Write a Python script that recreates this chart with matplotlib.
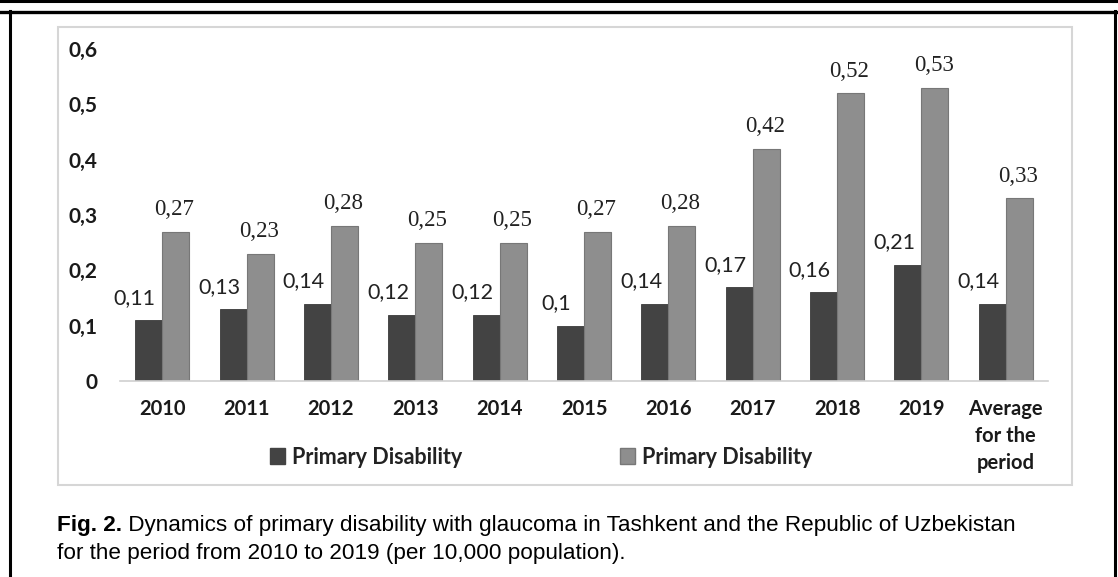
import numpy as np
import matplotlib.pyplot as plt
from matplotlib.patches import Rectangle, Patch
from matplotlib.lines import Line2D

W, H = 1118, 577
categories = ['2010', '2011', '2012', '2013', '2014', '2015', '2016', '2017',
              '2018', '2019', 'Average\nfor the\nperiod']
tashkent = [0.11, 0.13, 0.14, 0.12, 0.12, 0.1, 0.14, 0.17, 0.16, 0.21, 0.14]
republic = [0.27, 0.23, 0.28, 0.25, 0.25, 0.27, 0.28, 0.42, 0.52, 0.53, 0.33]
tashkent_txt = ['0,11', '0,13', '0,14', '0,12', '0,12', '0,1', '0,14', '0,17',
                '0,16', '0,21', '0,14']
republic_txt = ['0,27', '0,23', '0,28', '0,25', '0,25', '0,27', '0,28', '0,42',
                '0,52', '0,53', '0,33']
yticks = [0, 0.1, 0.2, 0.3, 0.4, 0.5, 0.6]
ytick_txt = ['0', '0,1', '0,2', '0,3', '0,4', '0,5', '0,6']
legend_labels = ['Primary Disability', 'Primary Disability']
caption_bold = 'Fig. 2.'
caption_1 = ' Dynamics of primary disability with glaucoma in Tashkent and the Republic of Uzbekistan'
caption_2 = 'for the period from 2010 to 2019 (per 10,000 population).'

dark = '#434343'
light = '#8e8e8e'


def fx(px):
    return px / W


def fy(py):
    return 1 - py / H


fig = plt.figure(figsize=(W / 100, H / 100), dpi=100)
fig.patch.set_facecolor('white')

# page frame: double rule at the top, vertical sides
fig.add_artist(Line2D([0, 1], [fy(1), fy(1)], color='black', lw=2.2))
fig.add_artist(Line2D([0, 1], [fy(11.5), fy(11.5)], color='black', lw=2.4))
fig.add_artist(Line2D([fx(9.5), fx(9.5)], [0, fy(11)], color='black', lw=2.2))
fig.add_artist(Line2D([fx(1114.5), fx(1114.5)], [0, fy(11)], color='black', lw=2.2))

# chart area border
fig.add_artist(Rectangle((fx(58), fy(485)), fx(1072) - fx(58), fy(27) - fy(485),
                         fill=False, edgecolor='#d6d6d6', lw=1.5))

ax = fig.add_axes([fx(120), fy(381), fx(1048) - fx(120), fy(49) - fy(381)])
x = np.arange(len(categories))
bw = 0.32
ax.bar(x - bw / 2, tashkent, bw, color=dark, edgecolor='#3a3a3a', lw=0.6)
ax.bar(x + bw / 2, republic, bw, color=light, edgecolor='#777777', lw=0.8)

for i in range(len(categories)):
    ax.annotate(tashkent_txt[i], (x[i] - bw / 2, tashkent[i]), xytext=(-10, 16),
                textcoords='offset points', ha='center', va='center',
                fontsize=15.5, family='Lato', color='#222222')
    ax.annotate(republic_txt[i], (x[i] + bw / 2, republic[i]), xytext=(-1, 16),
                textcoords='offset points', ha='center', va='center',
                fontsize=16.5, family='Liberation Serif', color='#222222')

ax.set_xlim(-0.5, len(categories) - 0.5)
ax.set_ylim(0, 0.6)
ax.set_yticks(yticks)
ax.set_yticklabels(ytick_txt, fontsize=15, fontweight='bold', family='Lato', color='#1a1a1a')
ax.set_xticks(x)
ax.set_xticklabels(categories, fontsize=14.5, fontweight='bold', family='Lato',
                   color='#1a1a1a', linespacing=1.45, va='top')
ax.tick_params(axis='both', length=0)
ax.tick_params(axis='y', pad=16)
ax.tick_params(axis='x', pad=13)
for s in ['top', 'right', 'left']:
    ax.spines[s].set_visible(False)
ax.spines['bottom'].set_color('#d0d0d0')
ax.spines['bottom'].set_linewidth(1.2)
ax.patch.set_alpha(0)

handles = [Patch(facecolor=dark, edgecolor=dark), Patch(facecolor=light, edgecolor='#777777')]
fig.legend(handles, legend_labels, ncol=2, loc='center',
           bbox_to_anchor=(fx(541), fy(457)), frameon=False,
           prop={'family': 'Lato', 'weight': 'bold', 'size': 15.5},
           handlelength=0.7, handleheight=0.7, handletextpad=0.35,
           columnspacing=7.3, labelcolor='#222222')

# caption
cap_size = 16.2
t = fig.text(fx(57), fy(525), caption_bold, fontsize=cap_size, fontweight='bold',
             family='Liberation Sans', va='center', ha='left')
fig.canvas.draw()
bb = t.get_window_extent(fig.canvas.get_renderer())
fig.text(bb.x1 / W, fy(525), caption_1, fontsize=cap_size, family='Liberation Sans',
         va='center', ha='left')
fig.text(fx(57), fy(553), caption_2, fontsize=cap_size, family='Liberation Sans',
         va='center', ha='left')

fig.savefig('out.png', dpi=100)
